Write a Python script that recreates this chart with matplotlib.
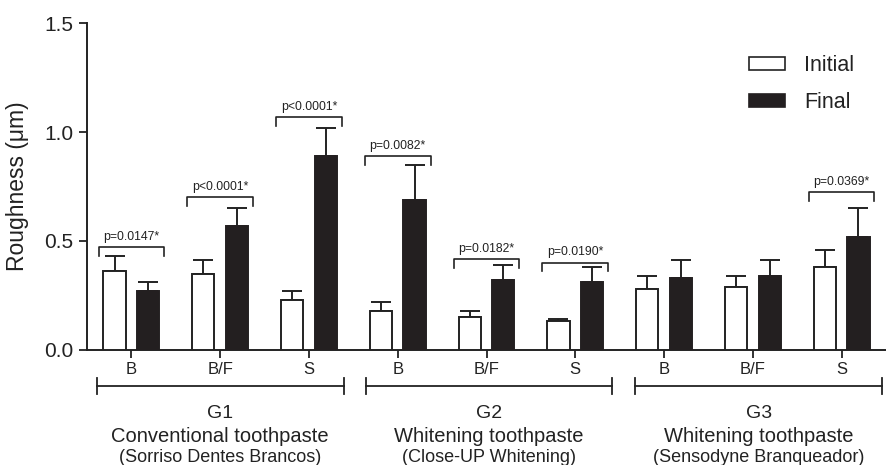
import matplotlib
matplotlib.use("Agg")
import matplotlib.pyplot as plt
from matplotlib.patches import Patch
import numpy as np

plt.rcParams['font.family'] = ['Liberation Sans', 'DejaVu Sans']

categories = ["B", "B/F", "S", "B", "B/F", "S", "B", "B/F", "S"]
initial = [0.36, 0.35, 0.23, 0.18, 0.15, 0.13, 0.28, 0.29, 0.38]
initial_err = [0.07, 0.06, 0.04, 0.04, 0.03, 0.01, 0.06, 0.05, 0.08]
final = [0.27, 0.57, 0.89, 0.69, 0.32, 0.31, 0.33, 0.34, 0.52]
final_err = [0.04, 0.08, 0.13, 0.16, 0.07, 0.07, 0.08, 0.07, 0.13]
pvalue_idx = [0, 1, 2, 3, 4, 5, 8]
pvalue_text = ["p=0.0147*", "p<0.0001*", "p<0.0001*", "p=0.0082*",
               "p=0.0182*", "p=0.0190*", "p=0.0369*"]
pvalue_y = [0.47, 0.70, 1.07, 0.89, 0.415, 0.40, 0.725]
group_names = ["G1", "G2", "G3"]
group_desc = ["Conventional toothpaste", "Whitening toothpaste", "Whitening toothpaste"]
group_brand = ["(Sorriso Dentes Brancos)", "(Close-UP Whitening)", "(Sensodyne Branqueador)"]
group_span = [(-0.39, 2.39), (2.64, 5.41), (5.67, 8.46)]

W, H = 886, 465
fig = plt.figure(figsize=(W / 100, H / 100), dpi=100)
ax = fig.add_axes([87 / W, 1 - 349.7 / H, (W - 87) / W, (349.7 - 23.3) / H])

x = np.arange(len(categories))
bw = 0.25
off = 0.19
lw = 1.4
ink = "#222222"
ax.bar(x - off, initial, bw, color="white", edgecolor=ink, linewidth=lw, zorder=3)
ax.bar(x + off, final, bw, color="#231f20", edgecolor="#231f20", linewidth=lw, zorder=3)
ax.errorbar(x - off, initial, yerr=[np.zeros(len(x)), initial_err], fmt="none",
            ecolor=ink, elinewidth=lw, capsize=7, capthick=lw, zorder=2)
ax.errorbar(x + off, final, yerr=[np.zeros(len(x)), final_err], fmt="none",
            ecolor=ink, elinewidth=lw, capsize=7, capthick=lw, zorder=2)

# p-value brackets
for i, t, yb in zip(pvalue_idx, pvalue_text, pvalue_y):
    x0, x1 = i - 0.37, i + 0.37
    ax.plot([x0, x0, x1, x1], [yb - 0.04, yb, yb, yb - 0.04], color=ink, lw=1.2,
            clip_on=False)
    ax.text(i, yb + 0.02, t, ha="center", va="bottom", fontsize=8.8, color=ink)

ax.set_xlim(-0.5, 8.5)
ax.set_ylim(0, 1.5)
ax.set_yticks([0.0, 0.5, 1.0, 1.5])
ax.set_yticklabels(["0.0", "0.5", "1.0", "1.5"], fontsize=15)
ax.set_xticks(x)
ax.set_xticklabels(categories, fontsize=12)
ax.tick_params(axis="both", width=1.3, length=6, color=ink, labelcolor=ink)
ax.tick_params(axis="x", pad=3)
ax.tick_params(axis="y", pad=4)
for s in ["top", "right"]:
    ax.spines[s].set_visible(False)
for s in ["left", "bottom"]:
    ax.spines[s].set_linewidth(1.4)
    ax.spines[s].set_color(ink)

ax.set_ylabel("Roughness (μm)", fontsize=16.5, color=ink)
ax.yaxis.set_label_coords(-0.072, 0.5)

# group brackets below axis
trans = ax.get_xaxis_transform()
axh = 349.7 - 23.3
yl = (349.7 - 386) / axh
yc = 8 / axh
for (a, b), g, d, br in zip(group_span, group_names, group_desc, group_brand):
    ax.plot([a, b], [yl, yl], transform=trans, color=ink, lw=1.3, clip_on=False)
    for xe in (a, b):
        ax.plot([xe, xe], [yl - yc, yl + yc], transform=trans, color=ink, lw=1.3,
                clip_on=False)
    xm = (a + b) / 2
    fig_x = ax.transData.transform((xm, 0))[0] / W
    fig.text(fig_x, 1 - 413 / H, g, ha="center", va="center", fontsize=14, color=ink)
    fig.text(fig_x, 1 - 436 / H, d, ha="center", va="center", fontsize=14.5, color=ink)
    fig.text(fig_x, 1 - 457 / H, br, ha="center", va="center", fontsize=13, color=ink)

handles = [Patch(facecolor="white", edgecolor=ink, linewidth=1.2, label="Initial"),
           Patch(facecolor="#231f20", edgecolor="#231f20", linewidth=1.2, label="Final")]
fig.legend(handles=handles, loc="upper left", bbox_to_anchor=(749 / W, 1 - 55 / H),
           frameon=False, fontsize=15.5, handlelength=1.65, handleheight=0.55,
           handletextpad=0.9, labelspacing=0.75, borderpad=0, borderaxespad=0,
           labelcolor=ink)

fig.savefig("out.png", dpi=100)
